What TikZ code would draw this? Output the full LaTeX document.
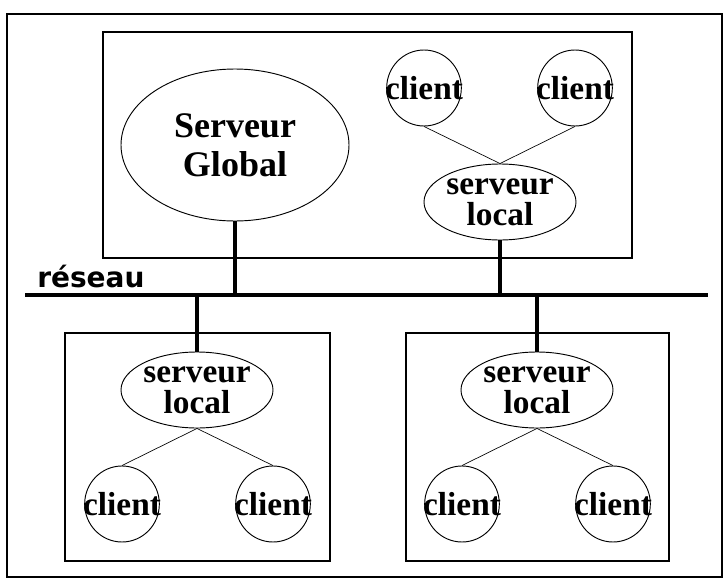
\documentclass[tikz,border=0pt]{standalone}
\usepackage{fontspec}
\setmainfont{Liberation Serif}
\newfontfamily\labelfont{DejaVu Sans}
\usetikzlibrary{shapes.geometric}
\tikzset{
  box/.style={draw, line width=1.8pt},
  bus/.style={line width=3pt},
  link/.style={line width=0.5pt},
  client/.style={draw, ellipse, line width=0.7pt, inner xsep=-9.5pt, inner ysep=0pt, minimum width=56pt, minimum height=57pt,
    font=\fontsize{25}{20}\selectfont\bfseries},
  locserv/.style={draw, ellipse, line width=0.7pt, inner sep=0pt, minimum width=114pt, minimum height=57pt,
    align=center, font=\fontsize{25}{23}\selectfont\bfseries},
}
\begin{document}
\begin{tikzpicture}[x=0.75pt, y=-0.75pt]
\useasboundingbox (0,0) rectangle (726,579);
\draw[box] (7,14) rectangle (722,577);
\draw[box] (103,32) rectangle (632,258);
\draw[box] (65,333) rectangle (330,561);
\draw[box] (406,333) rectangle (669,561);
\node[draw, ellipse, line width=0.7pt, inner sep=0pt, minimum width=171pt, minimum height=114pt, align=center,
  font=\fontsize{27}{29}\selectfont\bfseries] (glob) at (235,145) {Serveur\\Global};
\node[client] (c1) at (424,88) {client};
\node[client] (c2) at (575,88) {client};
\node[locserv] (loc1) at (500,202) {serveur\\local};
\node[locserv] (loc2) at (197,390) {serveur\\local};
\node[locserv] (loc3) at (537,390) {serveur\\local};
\node[client] (c3) at (122,504) {client};
\node[client] (c4) at (273,504) {client};
\node[client] (c5) at (462,504) {client};
\node[client] (c6) at (613,504) {client};
\coordinate (netL) at (25,295);
\coordinate (netR) at (708,295);
\node[anchor=base west, inner sep=0pt, font=\labelfont\fontsize{21}{21}\selectfont\bfseries] (res) at (37,287) {réseau};
\draw[bus] (netL) -- (netR);
\draw[bus] (glob.south) -- (glob.south |- netL);
\draw[bus] (loc1.south) -- (loc1.south |- netL);
\draw[bus] (loc2.north) -- (loc2.north |- netL);
\draw[bus] (loc3.north) -- (loc3.north |- netL);
\draw[link] (c1.south) -- (loc1.north);
\draw[link] (c2.south) -- (loc1.north);
\draw[link] (loc2.south) -- (c3.north);
\draw[link] (loc2.south) -- (c4.north);
\draw[link] (loc3.south) -- (c5.north);
\draw[link] (loc3.south) -- (c6.north);
\end{tikzpicture}
\end{document}
